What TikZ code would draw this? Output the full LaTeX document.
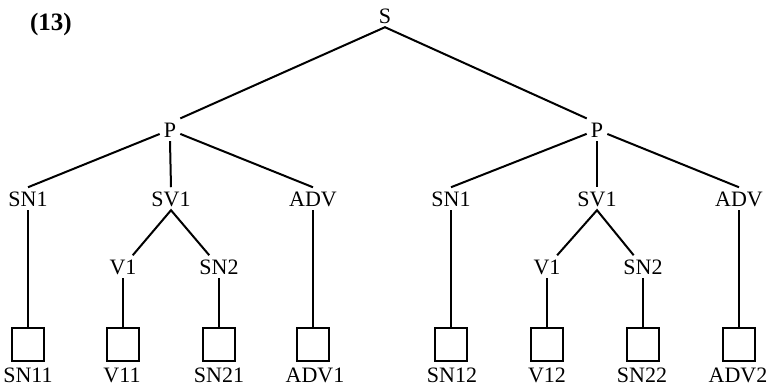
\documentclass[tikz,border=0pt]{standalone}
\usepackage{fontspec}
\setmainfont{Liberation Serif}
\begin{document}
\begin{tikzpicture}[x=1pt,y=-1pt,
  lbl/.style={font=\fontsize{22}{26}\selectfont, anchor=base, inner sep=4pt, text depth=0pt},
  leaflbl/.style={font=\fontsize{22}{26}\selectfont, anchor=base, inner sep=0.5pt, text depth=0pt},
  leaf/.style={draw, line width=2pt, minimum width=32pt, minimum height=33pt, inner sep=0pt},
  edge/.style={line width=2pt}]
\useasboundingbox (0,0) rectangle (771,389);
\node[font=\bfseries\fontsize{25}{30}\selectfont, anchor=base] (num) at (51,30) {(13)};
% root
\node[lbl] (S) at (385,23) {S};
\node[lbl] (P1) at (170,137) {P};
\node[lbl] (P2) at (597,137) {P};
% level 2
\node[lbl] (SNa) at (28,206) {SN1};
\node[lbl] (SVa) at (171,206) {SV1};
\node[lbl] (ADVa) at (313,206) {ADV};
\node[lbl] (SNb) at (451,206) {SN1};
\node[lbl] (SVb) at (597,206) {SV1};
\node[lbl] (ADVb) at (739,206) {ADV};
% level 3
\node[lbl] (Va) at (123,274) {V1};
\node[lbl] (SNNa) at (219,274) {SN2};
\node[lbl] (Vb) at (547,274) {V1};
\node[lbl] (SNNb) at (643,274) {SN2};
% leaves
\node[leaf] (b1) at (28,344) {};
\node[leaf] (b2) at (123,344) {};
\node[leaf] (b3) at (219,344) {};
\node[leaf] (b4) at (313,344) {};
\node[leaf] (b5) at (451,344) {};
\node[leaf] (b6) at (547,344) {};
\node[leaf] (b7) at (643,344) {};
\node[leaf] (b8) at (739,344) {};
\node[leaflbl] (l1) at (28,382) {SN11};
\node[leaflbl] (l2) at (122,382) {V11};
\node[leaflbl] (l3) at (219,382) {SN21};
\node[leaflbl] (l4) at (315,382) {ADV1};
\node[leaflbl] (l5) at (452,382) {SN12};
\node[leaflbl] (l6) at (547,382) {V12};
\node[leaflbl] (l7) at (642,382) {SN22};
\node[leaflbl] (l8) at (738,382) {ADV2};
% edges
\draw[edge] (P1.north east) -- (S.south) -- (P2.north west);
\draw[edge] (P1) -- (SNa.north);
\draw[edge] (P1.south) -- (SVa.north);
\draw[edge] (P1) -- (ADVa.north);
\draw[edge] (P2) -- (SNb.north);
\draw[edge] (P2.south) -- (SVb.north);
\draw[edge] (P2) -- (ADVb.north);
\draw[edge] (Va) -- (SVa.south) -- (SNNa);
\draw[edge] (Vb) -- (SVb.south) -- (SNNb);
\draw[edge] (SNa.south) -- (b1.north);
\draw[edge] (Va.south) -- (b2.north);
\draw[edge] (SNNa.south) -- (b3.north);
\draw[edge] (ADVa.south) -- (b4.north);
\draw[edge] (SNb.south) -- (b5.north);
\draw[edge] (Vb.south) -- (b6.north);
\draw[edge] (SNNb.south) -- (b7.north);
\draw[edge] (ADVb.south) -- (b8.north);
\end{tikzpicture}
\end{document}
